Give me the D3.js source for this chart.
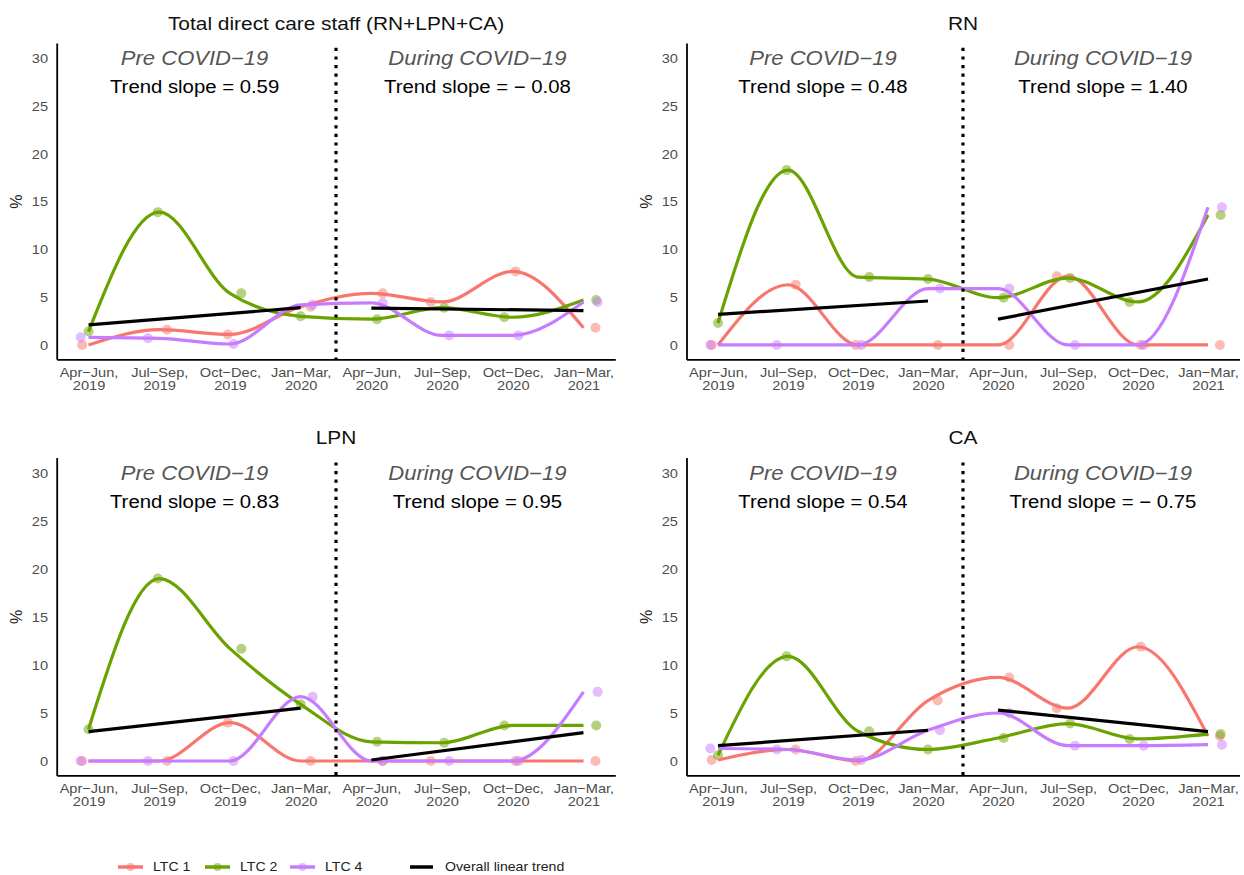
<!DOCTYPE html>
<html>
<head>
<meta charset="utf-8">
<script src="https://cdn.jsdelivr.net/npm/d3@7"></script>
<style>
  body { margin: 0; background: #fff; }
  svg { font-family: "Liberation Sans", Arial, sans-serif; }
</style>
</head>
<body>
<div id="chart"></div>
<script>
// Quarters on the x axis
const quarterNames = ["Apr−Jun,", "Jul−Sep,", "Oct−Dec,", "Jan−Mar,", "Apr−Jun,", "Jul−Sep,", "Oct−Dec,", "Jan−Mar,"];
const quarterYears = ["2019", "2019", "2019", "2020", "2020", "2020", "2020", "2021"];

const seriesNames = ["LTC 1", "LTC 2", "LTC 4"];
const colors = ["#F8766D", "#6AA300", "#C77CFF"];

// Total direct care staff (RN+LPN+CA), %
const totalLTC1 = [0, 1.6, 1.1, 4.0, 5.4, 4.5, 7.7, 1.8];
const totalLTC2 = [1.4, 13.9, 5.4, 3.0, 2.7, 3.9, 2.9, 4.7];
const totalLTC4 = [0.8, 0.7, 0.1, 4.2, 4.4, 1.0, 1.0, 4.5];

// RN
const rnLTC1 = [0, 6.3, 0, 0, 0, 7.2, 0, 0];
const rnLTC2 = [2.3, 18.3, 7.1, 6.9, 4.95, 7.0, 4.5, 13.6];
const rnLTC4 = [0, 0, 0, 5.9, 5.9, 0, 0, 14.4];

// LPN
const lpnLTC1 = [0, 0, 4.0, 0, 0, 0, 0, 0];
const lpnLTC2 = [3.3, 19.0, 11.7, 5.9, 2.0, 1.9, 3.7, 3.7];
const lpnLTC4 = [0, 0, 0, 6.7, 0, 0, 0, 7.2];

// CA
const caLTC1 = [0.1, 1.2, 0.0, 6.3, 8.7, 5.5, 11.9, 2.6];
const caLTC2 = [0.6, 10.9, 3.1, 1.2, 2.4, 3.9, 2.3, 2.8];
const caLTC4 = [1.3, 1.2, 0.1, 3.2, 5.0, 1.6, 1.6, 1.7];

// horizontal jitter of the points (in quarters), same in every panel
const jitterLTC1 = [-0.09, 0.11, -0.03, 0.14, 0.16, -0.16, 0.04, 0.17];
const jitterLTC2 = [0.0, -0.02, 0.16, 0.0, 0.08, 0.03, -0.12, 0.18];
const jitterLTC4 = [-0.11, -0.16, 0.05, 0.17, 0.16, 0.1, 0.08, 0.2];

// Overall linear trend, start and end values of each period
const preTrend = [[2.1, 3.9], [3.2, 4.6], [3.05, 5.5], [1.6, 3.2]];
const duringTrend = [[3.85, 3.6], [2.7, 6.9], [0.1, 2.95], [5.3, 3.05]];
const preSlopes = ["0.59", "0.48", "0.83", "0.54"];
const duringSlopes = ["− 0.08", "1.40", "0.95", "− 0.75"];

const titles = ["Total direct care staff (RN+LPN+CA)", "RN", "LPN", "CA"];
const yTicks = [0, 5, 10, 15, 20, 25, 30];

const panels = [
    { values: [totalLTC1, totalLTC2, totalLTC4], left: 56.7, right: 615.3, top: 43, bottom: 359.3 },
    { values: [rnLTC1, rnLTC2, rnLTC4], left: 686.5, right: 1239.5, top: 43, bottom: 359.3 },
    { values: [lpnLTC1, lpnLTC2, lpnLTC4], left: 56.7, right: 615.3, top: 457.6, bottom: 775.4 },
    { values: [caLTC1, caLTC2, caLTC4], left: 686.5, right: 1239.5, top: 457.6, bottom: 775.4 }
];
const jitters = [jitterLTC1, jitterLTC2, jitterLTC4];

// the source picture has slightly wide lettering
const stretch = 1.13;

const svg = d3.select("#chart")
    .append("svg")
    .attr("width", 1244)
    .attr("height", 875);

// helper: text placed at x,y and stretched horizontally
const addText = (g, x, y, str, size) => {
    return g.append("text")
        .attr("transform", "translate(" + x + "," + y + ") scale(" + stretch + ",1)")
        .attr("dominant-baseline", "central")
        .attr("font-size", size)
        .text(str);
};

const drawPanel = (p, k) => {
    const x = d3.scaleLinear().domain([-0.45, 7.45]).range([p.left, p.right]);
    const y = d3.scaleLinear().domain([-1.5, 31.6]).range([p.bottom, p.top]);
    const g = svg.append("g");

    // Title
    addText(g, (p.left + p.right) / 2, p.top - 20, titles[k], 18.5)
        .attr("text-anchor", "middle")
        .attr("fill", "#111");

    // Y axis
    const yAxis = g.append("g")
        .attr("transform", "translate(" + p.left + ",0)")
        .call(d3.axisLeft(y).tickValues(yTicks).tickSize(0).tickSizeOuter(0).tickPadding(8));
    yAxis.select(".domain").attr("stroke", "#000").attr("stroke-width", 1.8);
    yAxis.selectAll("text")
        .attr("font-size", 13.5)
        .attr("fill", "#4d4d4d")
        .attr("font-family", "Liberation Sans, Arial, sans-serif")
        .attr("transform", "scale(1.08,1)");

    // X axis
    const xAxis = g.append("g")
        .attr("transform", "translate(0," + p.bottom + ")")
        .call(d3.axisBottom(x).tickValues(d3.range(8)).tickSize(0).tickSizeOuter(0).tickFormat(""));
    xAxis.select(".domain").attr("stroke", "#000").attr("stroke-width", 1.8);
    xAxis.selectAll(".tick").each(function (d) {
        const t = d3.select(this).append("text")
            .attr("text-anchor", "middle")
            .attr("font-size", 13.5)
            .attr("fill", "#4d4d4d")
            .attr("font-family", "Liberation Sans, Arial, sans-serif")
            .attr("transform", "scale(1.08,1)");
        t.append("tspan").attr("x", 0).attr("y", 17.5).text(quarterNames[d]);
        t.append("tspan").attr("x", 0).attr("y", 30.5).text(quarterYears[d]);
    });

    // "%" label
    g.append("text")
        .attr("transform", "translate(" + (p.left - 40) + "," + ((y(0) + y(30)) / 2) + ") rotate(-90)")
        .attr("text-anchor", "middle")
        .attr("dominant-baseline", "central")
        .attr("font-size", 16)
        .attr("fill", "#222")
        .text("%");

    // Points (jittered, transparent)
    p.values.forEach((vals, s) => {
        g.selectAll(null)
            .data(vals)
            .enter()
            .append("circle")
            .attr("cx", (d, i) => x(i + jitters[s][i]))
            .attr("cy", d => y(d))
            .attr("r", 5)
            .attr("fill", colors[s])
            .attr("fill-opacity", 0.5);
    });

    // Smoothed lines
    const lineFunc = d3.line()
        .x((d, i) => x(i))
        .y(d => y(d))
        .curve(d3.curveMonotoneX);
    p.values.forEach((vals, s) => {
        g.append("path")
            .attr("d", lineFunc(vals))
            .attr("fill", "none")
            .attr("stroke", colors[s])
            .attr("stroke-width", 3.2);
    });

    // Overall linear trends
    const trendLine = d3.line().x(d => x(d[0])).y(d => y(d[1]));
    [[[0, preTrend[k][0]], [3, preTrend[k][1]]], [[4, duringTrend[k][0]], [7, duringTrend[k][1]]]].forEach(seg => {
        g.append("path")
            .attr("d", trendLine(seg))
            .attr("fill", "none")
            .attr("stroke", "#000")
            .attr("stroke-width", 3.2);
    });

    // COVID divider
    g.append("line")
        .attr("x1", x(3.5)).attr("x2", x(3.5))
        .attr("y1", y(31.1)).attr("y2", p.bottom)
        .attr("stroke", "#000")
        .attr("stroke-width", 3.2)
        .attr("stroke-dasharray", "3.2,5.4");

    // Period annotations
    const notes = [
        [1.5, "Pre COVID−19", "Trend slope = " + preSlopes[k]],
        [5.5, "During COVID−19", "Trend slope = " + duringSlopes[k]]
    ];
    notes.forEach(n => {
        addText(g, x(n[0]), y(30), n[1], 19.5)
            .attr("text-anchor", "middle")
            .attr("font-style", "italic")
            .attr("fill", "#555");
        addText(g, x(n[0]), y(27), n[2], 18)
            .attr("text-anchor", "middle")
            .attr("fill", "#000");
    });
};

panels.forEach(drawPanel);

// Legend
const legend = svg.append("g").attr("transform", "translate(0,867)");
const legendX = [118, 205, 290];
seriesNames.forEach((name, s) => {
    legend.append("line")
        .attr("x1", legendX[s]).attr("x2", legendX[s] + 25)
        .attr("stroke", colors[s]).attr("stroke-width", 3.5);
    legend.append("circle")
        .attr("cx", legendX[s] + 12.5).attr("r", 4)
        .attr("fill", colors[s]).attr("fill-opacity", 0.5);
    addText(legend, legendX[s] + 35, 0, name, 12.5).attr("fill", "#222");
});
legend.append("line")
    .attr("x1", 410).attr("x2", 433)
    .attr("stroke", "#000").attr("stroke-width", 3.5);
addText(legend, 445, 0, "Overall linear trend", 12.5).attr("fill", "#222");
</script>
</body>
</html>
